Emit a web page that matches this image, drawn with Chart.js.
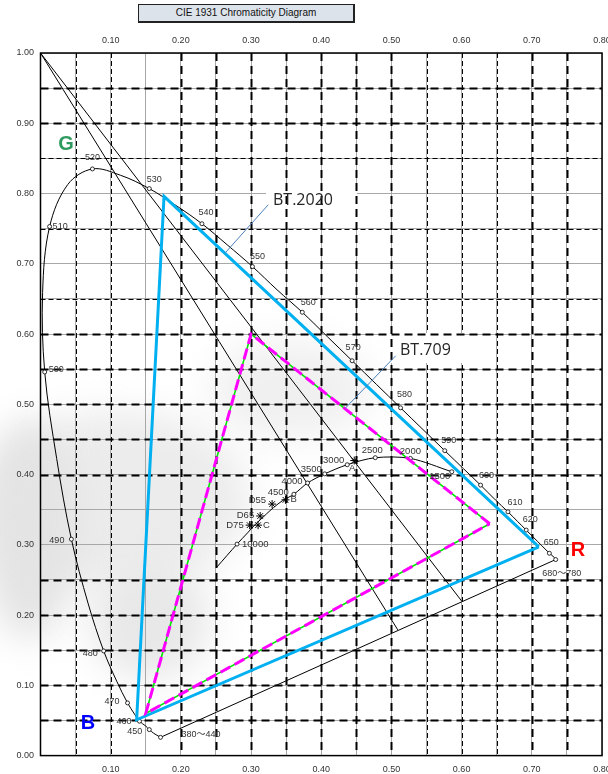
<!DOCTYPE html>
<html>
<head>
<meta charset="utf-8">
<script src="https://cdn.jsdelivr.net/npm/chart.js@4.4.1/dist/chart.umd.min.js"></script>
<style>
  html,body{margin:0;padding:0;background:#fff;}
  #wrap{position:relative;width:608px;height:774px;overflow:hidden;}
  #title{position:absolute;left:138px;top:4px;width:214px;height:16px;border:1px solid #222;
    border-right-width:2px;border-bottom-width:2px;background:#dde3ea;
    font:10px "Liberation Sans",Arial,sans-serif;color:#111;text-align:center;line-height:16px;}
  canvas{position:absolute;left:0;top:0;}
</style>
</head>
<body>
<div id="wrap">
  <canvas id="c" width="608" height="774"></canvas>
  <div id="title">CIE 1931 Chromaticity Diagram</div>
</div>
<script>
// ---------- data ----------
const xTickLabels = ['0.10','0.20','0.30','0.40','0.50','0.60','0.70','0.80'];
const yTickLabels = ['0.00','0.10','0.20','0.30','0.40','0.50','0.60','0.70','0.80','0.90','1.00'];

// spectral locus
const locusX = [0.171,0.161,0.155,0.150,0.141,0.134,0.124,0.109,0.090,0.068,0.044,0.023,0.006,0.003,0.013,0.039,0.074,0.114,0.155,0.193,0.230,0.266,0.302,0.337,0.373,0.409,0.444,0.479,0.513,0.545,0.576,0.603,0.627,0.648,0.666,0.680,0.692,0.708,0.719,0.725,0.730,0.734];
const locusY = [0.026,0.032,0.037,0.042,0.049,0.059,0.075,0.105,0.149,0.216,0.308,0.423,0.546,0.659,0.753,0.813,0.835,0.826,0.807,0.783,0.757,0.727,0.696,0.663,0.631,0.596,0.562,0.528,0.495,0.464,0.434,0.408,0.385,0.364,0.347,0.333,0.321,0.305,0.294,0.288,0.284,0.279];
const locusLabels = ['380～440','','450','','460','','470','','480','','490','','500','','510','','520','','530','','540','','550','','560','','570','','580','','590','','600','','610','','620','','','650','','680～780'];

// Planckian locus
const planckX = [0.251,0.280,0.295,0.306,0.3135,0.322,0.332,0.345,0.361,0.3805,0.405,0.437,0.477,0.527,0.586];
const planckY = [0.268,0.301,0.317,0.329,0.336,0.344,0.353,0.363,0.372,0.388,0.401,0.414,0.424,0.423,0.404];
const planckLabels = ['','10000','','','','','','','4500','4000','3500','3000','2500','2000','1500'];

// standard illuminants
const illumNames = ['A','B','C','D55','D65','D75'];
const illumX = [0.447,0.349,0.310,0.330,0.313,0.298];
const illumY = [0.420,0.364,0.328,0.358,0.341,0.328];

// gamut triangles (R, G, B)
const bt2020X = [0.710,0.176,0.137];
const bt2020Y = [0.297,0.796,0.051];
const bt709X = [0.640,0.300,0.150];
const bt709Y = [0.330,0.600,0.060];

// straight construction lines from (0,1) to the purple line
const constrX = [[0,0.509],[0,0.600]];
const constrY = [[1,0.179],[1,0.220]];

// ---------- helpers ----------
const pts = (xs, ys) => xs.map((v,i)=>({x:v,y:ys[i]}));
const closed = (xs, ys) => { const p = pts(xs,ys); p.push(p[0]); return p; };
const locusPts = pts(locusX, locusY);
const planckPts = pts(planckX, planckY);

const lineDS = (data, color, width, extra={}) => Object.assign({
  data, showLine:true, borderColor:color, borderWidth:width, pointRadius:0,
  fill:false, tension:0, borderJoinStyle:'miter'
}, extra);

const datasets = [
  lineDS(closed(bt709X, bt709Y), '#ff00ff', 3, {borderDash:[11,5]}),
  lineDS(closed(bt709X, bt709Y), '#00e600', 1.6),
  lineDS(closed(bt2020X, bt2020Y), '#00b0f0', 3),
  lineDS(pts(illumX, illumY), '#000', 1, {showLine:false, pointStyle:'star', pointRadius:4, borderWidth:1, pointBorderColor:'#000'}),
  lineDS(planckPts, '#000', 1, {tension:0.3,
    pointRadius: planckLabels.map(l=>l?2:0), pointBackgroundColor:'#fff', pointBorderColor:'#000', pointBorderWidth:0.8}),
  lineDS(locusPts, '#000', 1, {tension:0.35,
    pointRadius: locusLabels.map(l=>l?2:0), pointBackgroundColor:'#fff', pointBorderColor:'#000', pointBorderWidth:0.8}),
  lineDS([locusPts[0], locusPts[locusPts.length-1]], '#000', 1),
  lineDS(pts(constrX[0], constrY[0]), '#000', 1),
  lineDS(pts(constrX[1], constrY[1]), '#000', 1),
];

// label placements (pixel offsets, alignment)
const locusLabelPos = {
 '380～440':[21,-3,'left'],'450':[-7,2,'right'],'460':[-8,0,'right'],'470':[-8,-1,'right'],
 '480':[-6,3,'right'],'490':[-7,1,'right'],'500':[4,-2,'left'],'510':[3,0,'left'],
 '520':[0,-11,'center'],'530':[5,-9,'center'],'540':[4,-11,'center'],'550':[5,-10,'center'],
 '560':[6,-10,'center'],'570':[1,-13,'center'],'580':[4,-13,'center'],'590':[4,-10,'center'],
 '600':[6,-10,'center'],'610':[7,-9,'center'],'620':[4,-11,'center'],'650':[2,-11,'center'],
 '680～780':[6,14,'center']
};
const planckLabelPos = {
 '10000':[5,0,'left'],'4500':[-5,-2,'right'],'4000':[-5,-2,'right'],'3500':[-3,-4,'right'],
 '3000':[-3,-4,'right'],'2500':[-3,-7,'center'],'2000':[0,-7,'center'],'1500':[-12,5,'center']
};
const illumLabelPos = {
 'A':[-2,8,'center'],'B':[5,0,'left'],'C':[5,0,'left'],'D55':[-6,-4,'right'],'D65':[-6,-1,'right'],'D75':[-6,0,'right']
};

const boldH = [0.05,0.10,0.15,0.20,0.25,0.40,0.45,0.50,0.55,0.60,0.90,0.95];
const thinH = [0.65,0.75,0.85];
const boldV = [0.20,0.25,0.30,0.35,0.40,0.45,0.50,0.70,0.75];
const thinV = [0.05,0.10,0.55,0.60,0.65];

const LBLFONT = '9px "Liberation Sans", Arial, "Noto Sans CJK JP", sans-serif';

const overlay = {
  id:'overlay',
  beforeDraw(chart){
    // faint grey watermark in the background
    const {ctx} = chart;
    ctx.save();
    ctx.filter='blur(18px)';
    const blob=(cx,cy,rx,ry,c)=>{ctx.fillStyle=c;ctx.beginPath();ctx.ellipse(cx,cy,rx,ry,0,0,Math.PI*2);ctx.fill();};
    blob(120,500,130,90,'#ececec');
    blob(30,530,50,110,'#e4e4e4');
    blob(290,390,80,50,'#f0f0f0');
    blob(150,620,60,60,'#e8e8e8');
    ctx.restore();
  },
  beforeDatasetsDraw(chart){
    const {ctx, chartArea:a, scales:{x,y}} = chart;
    ctx.save();
    const hline=(v)=>{const py=Math.round(y.getPixelForValue(v))+0.5;ctx.beginPath();ctx.moveTo(a.left,py);ctx.lineTo(a.right,py);ctx.stroke();};
    const vline=(v)=>{const px=Math.round(x.getPixelForValue(v))+0.5;ctx.beginPath();ctx.moveTo(px,a.top);ctx.lineTo(px,a.bottom);ctx.stroke();};
    // thin dashed
    ctx.strokeStyle='#000'; ctx.lineWidth=1; ctx.setLineDash([5,3]);
    thinH.forEach(hline); thinV.forEach(vline);
    // white boxes behind callout labels
    ctx.setLineDash([]);
    ctx.fillStyle='#fff';
    ctx.fillRect(266,184,91,38);
    ctx.fillRect(385,333,78,30);
    // bold dashed
    ctx.lineWidth=2; ctx.setLineDash([8,5]);
    boldH.forEach(hline); boldV.forEach(vline);
    ctx.restore();
  },
  afterDatasetsDraw(chart){
    const {ctx, scales:{x,y}} = chart;
    ctx.save();
    ctx.font=LBLFONT; ctx.fillStyle='#333'; ctx.textBaseline='middle';
    const put=(xs,ys,labels,pos)=>{
      labels.forEach((l,i)=>{ if(!l||!pos[l]) return;
        const [dx,dy,al]=pos[l]; ctx.textAlign=al;
        ctx.fillText(l, x.getPixelForValue(xs[i])+dx, y.getPixelForValue(ys[i])+dy);
      });
    };
    put(locusX,locusY,locusLabels,locusLabelPos);
    ctx.font='9.5px "Liberation Sans", Arial, sans-serif';
    put(planckX,planckY,planckLabels,planckLabelPos);
    put(illumX,illumY,illumNames,illumLabelPos);

    // callouts
    ctx.strokeStyle='#4a7ebb'; ctx.lineWidth=1;
    const lead=(x1,y1,x2,y2)=>{ctx.beginPath();ctx.moveTo(x.getPixelForValue(x1),y.getPixelForValue(y1));ctx.lineTo(x.getPixelForValue(x2),y.getPixelForValue(y2));ctx.stroke();};
    lead(0.3245,0.784,0.2627,0.715);
    lead(0.506,0.569,0.4338,0.494);
    ctx.fillStyle='#262626'; ctx.font='16px "Open Sans", "Noto Sans", sans-serif'; ctx.textAlign='left';
    ctx.fillText('BT.2020', 273, 200);
    ctx.fillText('BT.709', 400, 350);

    // primaries letters
    ctx.font='bold 20px "Liberation Sans", Arial, sans-serif'; ctx.textAlign='center';
    ctx.fillStyle='#2f9a5f'; ctx.fillText('G', 66, 144);
    ctx.fillStyle='#ff0000'; ctx.fillText('R', 578, 550);
    ctx.fillStyle='#0000ff'; ctx.fillText('B', 88, 723);
    ctx.restore();
  },
  afterDraw(chart){
    const {ctx, chartArea:a, scales:{x,y}} = chart;
    ctx.save();
    ctx.strokeStyle='#000'; ctx.lineWidth=1.5;
    ctx.strokeRect(a.left, a.top, a.right-a.left, a.bottom-a.top);
    ctx.font='9px "Liberation Sans", Arial, sans-serif'; ctx.fillStyle='#333'; ctx.textBaseline='middle';
    ctx.textAlign='center';
    xTickLabels.forEach(t=>{
      const px=x.getPixelForValue(parseFloat(t));
      ctx.fillText(t, px, 41);
      ctx.fillText(t, px, 770);
    });
    ctx.textAlign='right';
    yTickLabels.forEach(t=>{
      ctx.fillText(t, 34, y.getPixelForValue(parseFloat(t)));
    });
    ctx.restore();
  }
};

new Chart(document.getElementById('c'), {
  type:'scatter',
  data:{datasets},
  plugins:[overlay],
  options:{
    responsive:false, animation:false, devicePixelRatio:1,
    layout:{padding:{left:40.5,right:6,top:53,bottom:18.4}},
    plugins:{legend:{display:false}, tooltip:{enabled:false}},
    scales:{
      x:{type:'linear',min:0,max:0.8,
         ticks:{display:false,stepSize:0.05},
         grid:{color:'#a8a8a8',lineWidth:1,drawTicks:false},
         border:{display:false},
         afterFit:s=>{s.height=0;}},
      y:{type:'linear',min:0,max:1,
         ticks:{display:false,stepSize:0.05},
         grid:{color:'#a8a8a8',lineWidth:1,drawTicks:false},
         border:{display:false},
         afterFit:s=>{s.width=0;}}
    }
  }
});
</script>
</body>
</html>
